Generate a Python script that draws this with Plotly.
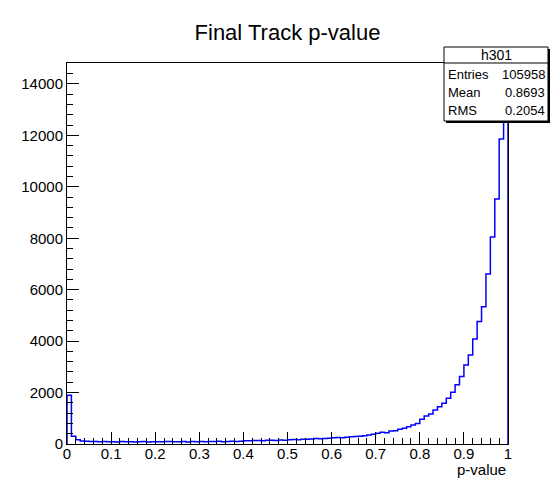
import plotly.graph_objects as go

# histogram h301: 100 bins on [0,1]
bin_edges_lo = 0.0
bin_edges_hi = 1.0
counts = [
    1900, 300, 170, 120, 110, 95, 100, 90, 95, 85,
    90, 80, 95, 85, 90, 80, 85, 95, 80, 90,
    85, 90, 95, 100, 85, 90, 95, 80, 100, 90,
    95, 90, 100, 95, 105, 90, 100, 110, 95, 105,
    130, 125, 135, 140, 130, 145, 150, 140, 155, 150,
    170, 175, 165, 185, 180, 190, 210, 200, 215, 225,
    240, 250, 245, 265, 280, 290, 300, 320, 350, 380,
    415, 460, 440, 505, 520, 570, 610, 675, 740, 800,
    960, 1090, 1170, 1320, 1450, 1580, 1780, 2010, 2300, 2620,
    3070, 3460, 4085, 4760, 5340, 6610, 8050, 9530, 11860, 14110,
]
x_tick_vals = [0, 0.1, 0.2, 0.3, 0.4, 0.5, 0.6, 0.7, 0.8, 0.9, 1.0]
x_tick_text = ["0", "0.1", "0.2", "0.3", "0.4", "0.5", "0.6", "0.7", "0.8", "0.9", "1"]
y_tick_vals = [0, 2000, 4000, 6000, 8000, 10000, 12000, 14000]
y_tick_text = ["0", "2000", "4000", "6000", "8000", "10000", "12000", "14000"]
stats_name = "h301"
stats_labels = ["Entries", "Mean", "RMS"]
stats_values = ["105958", "0.8693", "0.2054"]
title_text = "Final Track p-value"
x_title = "p-value"

nb = len(counts)
w = (bin_edges_hi - bin_edges_lo) / nb
xs = [bin_edges_lo] + [bin_edges_lo + i * w for i in range(nb)] + [bin_edges_hi, bin_edges_hi]
ys = [0] + counts + [counts[-1], 0]

FONT = "Liberation Sans, Arial, Helvetica, sans-serif"
ymax = max(counts) * 1.05

fig = go.Figure()
fig.add_trace(go.Scatter(x=xs, y=ys, mode="lines", line=dict(color="#0000ff", width=1.5, shape="hv"),
                         hoverinfo="skip", showlegend=False))

W, H = 552, 486
L, T = 67, 63
R = W - 508
B = H - 444
pw = W - L - R
ph = H - T - B

def px_x(px):
    return (px - L) / pw

def px_y(py):
    return (H - B - py) / ph

fig.update_layout(
    width=W, height=H,
    margin=dict(l=L, r=R, t=T, b=B, autoexpand=False),
    paper_bgcolor="white", plot_bgcolor="white",
    font=dict(family=FONT, color="black"),
    title=dict(text=title_text, x=0.5, xref="paper", xanchor="center",
               y=1 - 32 / H, yref="container", yanchor="middle",
               font=dict(size=22, family=FONT, color="black")),
    xaxis=dict(range=[0, 1], tickvals=x_tick_vals, ticktext=x_tick_text,
               ticks="inside", ticklen=12, tickwidth=1, tickcolor="black",
               ticklabelstandoff=-4,
               minor=dict(ticks="inside", dtick=0.02, ticklen=6, tickcolor="black", showgrid=False),
               showline=True, linecolor="black", linewidth=1, mirror=True,
               showgrid=False, zeroline=False, tickfont=dict(size=15, color="black")),
    yaxis=dict(range=[0, ymax], tickvals=y_tick_vals, ticktext=y_tick_text,
               ticks="inside", ticklen=12, tickwidth=1, tickcolor="black",
               minor=dict(ticks="inside", dtick=400, ticklen=6, tickcolor="black", showgrid=False),
               showline=True, linecolor="black", linewidth=1, mirror=True,
               showgrid=False, zeroline=False, tickfont=dict(size=15, color="black")),
)

# x-axis title
fig.add_annotation(text=x_title, xref="paper", yref="paper", x=1.0, y=px_y(469),
                   xanchor="right", yanchor="middle", showarrow=False,
                   font=dict(size=15, family=FONT, color="black"))

# stats box
bx0, bx1, by0, by1, bsep = 444, 548, 47, 121, 63
fig.add_shape(type="rect", xref="paper", yref="paper",
              x0=px_x(bx0 + 2), x1=px_x(bx1 + 2), y0=px_y(by1 + 2), y1=px_y(by0 + 2),
              fillcolor="black", line=dict(width=0), layer="above")
fig.add_shape(type="rect", xref="paper", yref="paper",
              x0=px_x(bx0), x1=px_x(bx1), y0=px_y(by1), y1=px_y(by0),
              fillcolor="white", line=dict(color="black", width=1), layer="above")
fig.add_shape(type="line", xref="paper", yref="paper",
              x0=px_x(bx0), x1=px_x(bx1), y0=px_y(bsep), y1=px_y(bsep),
              line=dict(color="black", width=1), layer="above")
fig.add_annotation(text=stats_name, xref="paper", yref="paper", x=px_x((bx0 + bx1) / 2), y=px_y(55),
                   xanchor="center", yanchor="middle", showarrow=False,
                   font=dict(size=14, family=FONT, color="black"))
row_y = [74, 92.5, 110.5]
for lab, val, ry in zip(stats_labels, stats_values, row_y):
    fig.add_annotation(text=lab, xref="paper", yref="paper", x=px_x(bx0 + 2), y=px_y(ry),
                       xanchor="left", yanchor="middle", showarrow=False,
                       font=dict(size=13, family=FONT, color="black"))
    fig.add_annotation(text=val, xref="paper", yref="paper", x=px_x(bx1 - 1), y=px_y(ry),
                       xanchor="right", yanchor="middle", showarrow=False,
                       font=dict(size=13, family=FONT, color="black"))

fig.write_html("out.html",
               config={"displayModeBar": False},
               post_script="document.body.style.margin='0';document.body.style.overflow='hidden';")
